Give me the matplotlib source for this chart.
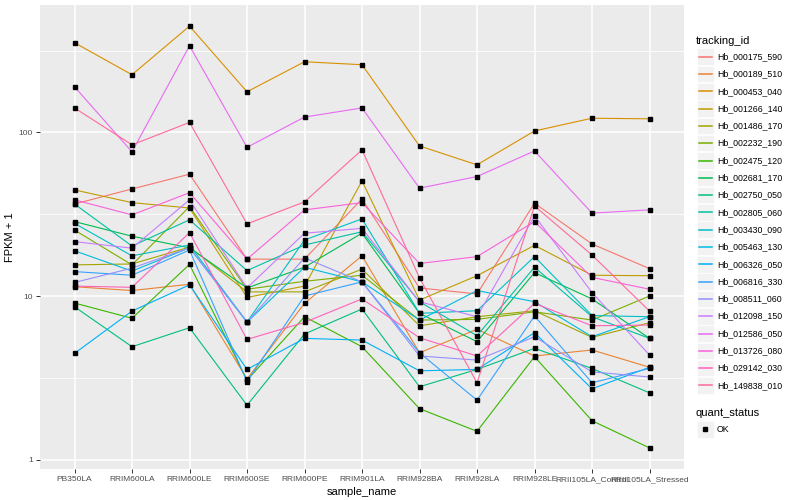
import numpy as np
import matplotlib
matplotlib.use('Agg')
import matplotlib.pyplot as plt
from matplotlib.patches import Rectangle
from matplotlib.lines import Line2D
from matplotlib.ticker import NullFormatter

plt.rcParams['font.family'] = ['Liberation Sans', 'DejaVu Sans']

samples = ['PB350LA', 'RRIM600LA', 'RRIM600LE', 'RRIM600SE', 'RRIM600PE', 'RRIM901LA',
           'RRIM928BA', 'RRIM928LA', 'RRIM928LE', 'RRII105LA_Control', 'RRII105LA_Stressed']

tracking_ids = ['Hb_000175_590', 'Hb_000189_510', 'Hb_000453_040', 'Hb_001266_140',
                'Hb_001486_170', 'Hb_002232_190', 'Hb_002475_120', 'Hb_002681_170',
                'Hb_002750_050', 'Hb_002805_060', 'Hb_003430_090', 'Hb_005463_130',
                'Hb_006326_050', 'Hb_006816_330', 'Hb_008511_060', 'Hb_012098_150',
                'Hb_012586_050', 'Hb_013726_080', 'Hb_029142_030', 'Hb_149838_010']

# FPKM + 1 per sample
hb_000175_590 = [36.5, 45.1, 55.5, 16.8, 16.8, 39.2, 11.2, 10.3, 36.9, 20.8, 14.7]
hb_000189_510 = [11.4, 10.8, 11.8, 3.11, 9.02, 17.6, 4.50, 6.26, 4.30, 4.68, 3.67]
hb_000453_040 = [353, 225, 446, 177, 270, 259, 82.6, 63.3, 102, 122, 121]
hb_001266_140 = [44.5, 37.2, 34.5, 9.8, 11.5, 50.5, 9.45, 13.3, 20.4, 13.4, 13.3]
hb_001486_170 = [15.5, 15.7, 19.9, 10.6, 10.6, 14.6, 6.58, 7.47, 8.13, 5.59, 6.87]
hb_002232_190 = [25.3, 15.5, 35.2, 11.0, 12.3, 13.4, 7.13, 7.20, 8.01, 7.13, 10.0]
hb_002475_120 = [9.06, 7.31, 15.6, 3.06, 7.47, 4.90, 2.05, 1.49, 4.26, 1.73, 1.18]
hb_002681_170 = [28.5, 23.2, 19.7, 11.2, 15.0, 24.2, 7.84, 5.26, 13.9, 9.6, 5.51]
hb_002750_050 = [8.60, 4.90, 6.40, 2.15, 5.86, 8.33, 2.79, 3.56, 4.79, 3.61, 2.56]
hb_002805_060 = [36.5, 20.2, 29.2, 14.3, 20.5, 24.7, 9.23, 5.72, 15.0, 7.47, 5.51]
hb_003430_090 = [27.8, 17.6, 20.5, 6.93, 22.0, 29.6, 7.84, 8.13, 17.4, 7.6, 7.47]
hb_005463_130 = [18.9, 14.2, 19.7, 6.93, 15.0, 12.2, 7.13, 10.8, 9.23, 5.64, 7.47]
hb_006326_050 = [4.46, 8.09, 11.7, 3.56, 5.51, 5.38, 3.49, 3.56, 5.97, 2.71, 3.67]
hb_006816_330 = [14.1, 13.4, 19.1, 3.0, 10.0, 12.2, 4.50, 2.31, 7.55, 2.95, 3.61]
hb_008511_060 = [12.1, 14.8, 19.7, 6.93, 17.1, 12.2, 4.30, 4.06, 5.64, 3.44, 3.20]
hb_012098_150 = [21.5, 19.6, 38.7, 11.2, 24.2, 25.9, 9.23, 7.47, 30.9, 10.5, 4.36]
hb_012586_050 = [190, 76, 338, 81, 124, 141, 45.6, 53.7, 77, 32.1, 33.6]
hb_013726_080 = [38.7, 31.3, 42.8, 16.8, 33.6, 37.2, 15.8, 17.4, 28.5, 13.0, 11.0]
hb_029142_030 = [11.5, 11.3, 24.4, 5.43, 6.90, 9.6, 5.56, 4.30, 9.02, 6.58, 6.65]
hb_149838_010 = [141, 83.9, 115, 27.6, 37.6, 78.2, 12.9, 2.95, 35.5, 17.8, 8.09]

series = [hb_000175_590, hb_000189_510, hb_000453_040, hb_001266_140, hb_001486_170,
          hb_002232_190, hb_002475_120, hb_002681_170, hb_002750_050, hb_002805_060,
          hb_003430_090, hb_005463_130, hb_006326_050, hb_006816_330, hb_008511_060,
          hb_012098_150, hb_012586_050, hb_013726_080, hb_029142_030, hb_149838_010]


def hcl_hex(h, c=100, l=65):
    # polar Luv -> sRGB, same as R's hcl()
    hr = np.deg2rad(h)
    u, v = c * np.cos(hr), c * np.sin(hr)
    Xn, Yn, Zn = 95.047, 100.0, 108.883
    Y = Yn * ((l + 16) / 116) ** 3
    d = Xn + 15 * Yn + 3 * Zn
    up = u / (13 * l) + 4 * Xn / d
    vp = v / (13 * l) + 9 * Yn / d
    X = 9 * Y * up / (4 * vp)
    Z = Y * (12 - 3 * up - 20 * vp) / (4 * vp)
    M = np.array([[3.240479, -1.537150, -0.498535],
                  [-0.969256, 1.875992, 0.041556],
                  [0.055648, -0.204043, 1.057311]])
    rgb = M @ (np.array([X, Y, Z]) / 100)
    rgb = np.where(rgb > 0.0031308, 1.055 * np.abs(rgb) ** (1 / 2.4) - 0.055, 12.92 * rgb)
    return tuple(float(c_) for c_ in np.clip(rgb, 0, 1))


n = len(tracking_ids)
colors = [hcl_hex(h) for h in np.linspace(15, 375 - 360 / n, n)]

W, H = 800, 500
fig = plt.figure(figsize=(W / 100, H / 100), dpi=100)
ax = fig.add_axes([40 / W, 1 - 469 / H, (684 - 40) / W, (469 - 5) / H])
ax.set_facecolor('#EBEBEB')

x = np.arange(len(samples))
for vals, col in zip(series, colors):
    ax.plot(x, vals, color=col, lw=0.8, zorder=3)
for vals in series:
    ax.plot(x, vals, 's', color='black', ms=2.4, zorder=4)

ax.set_yscale('log')
allv = np.log10(np.concatenate([np.array(s, float) for s in series]))
pad = 0.05 * (allv.max() - allv.min())
ax.set_ylim(10 ** (allv.min() - pad), 10 ** (allv.max() + pad))
ax.set_xlim(-0.6, len(samples) - 1 + 0.6)

ax.set_xticks(x)
ax.set_xticklabels(samples)
ax.set_yticks([1, 10, 100])
ax.set_yticklabels(['1', '10', '100'])
ax.set_yticks([10 ** 0.5, 10 ** 1.5, 10 ** 2.5], minor=True)
ax.yaxis.set_minor_formatter(NullFormatter())
ax.tick_params(which='major', labelsize=6, labelcolor='#4D4D4D', color='#333333',
               length=3, width=0.7, pad=2)
ax.tick_params(which='minor', length=0)
ax.grid(which='major', color='white', lw=1.1)
ax.grid(which='minor', axis='y', color='white', lw=0.55)
ax.set_axisbelow(True)
for sp in ax.spines.values():
    sp.set_visible(False)
ax.set_xlabel('sample_name', fontsize=8, labelpad=3)
ax.set_ylabel('FPKM + 1', fontsize=8, labelpad=3)


def fx(px):
    return px / W


def fy(py):
    return 1 - py / H


# legend: tracking_id
fig.text(fx(696), fy(41), 'tracking_id', fontsize=8, va='center', ha='left')
for i, (tid, col) in enumerate(zip(tracking_ids, colors)):
    cy = 56.7 + i * 17.3
    fig.add_artist(Rectangle((fx(697), fy(cy + 8.3)), 16.6 / W, 16.6 / H,
                             transform=fig.transFigure, facecolor='#F2F2F2',
                             edgecolor='white', lw=0.5))
    fig.add_artist(Line2D([fx(698.5), fx(711.5)], [fy(cy), fy(cy)],
                          transform=fig.transFigure, color=col, lw=1.1))
    fig.text(fx(717), fy(cy), tid, fontsize=6.3, va='center', ha='left')

# legend: quant_status
fig.text(fx(696), fy(413), 'quant_status', fontsize=8, va='center', ha='left')
fig.add_artist(Rectangle((fx(697), fy(429.3 + 8.3)), 16.6 / W, 16.6 / H,
                         transform=fig.transFigure, facecolor='#F2F2F2',
                         edgecolor='white', lw=0.5))
fig.add_artist(Line2D([fx(705)], [fy(429.3)], transform=fig.transFigure,
                      marker='s', color='black', ms=2.4, lw=0))
fig.text(fx(717), fy(429.3), 'OK', fontsize=6.3, va='center', ha='left')

fig.savefig('out.png', dpi=100, facecolor='white')
